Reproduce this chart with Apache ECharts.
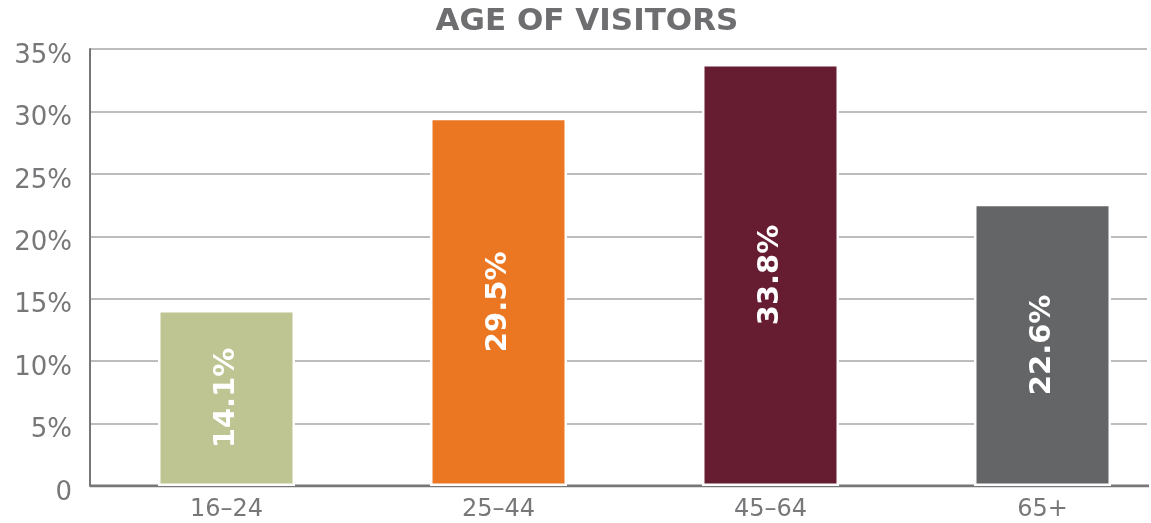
<!DOCTYPE html>
<html><head><meta charset="utf-8">
<script src="https://cdn.jsdelivr.net/npm/echarts@6/dist/echarts.min.js"></script>
<style>html,body{margin:0;padding:0;background:#fff}#c{width:1151px;height:523px}</style>
</head><body><div id="c"></div>
<script>
const title = "AGE OF VISITORS";
const categories = ["16–24", "25–44", "45–64", "65+"];
const values = [14.1, 29.5, 33.8, 22.6];
const barColors = ["#bec593", "#ec7723", "#661c31", "#646566"];
const yTicks = [0, 5, 10, 15, 20, 25, 30, 35];

const chart = echarts.init(document.getElementById('c'), null, {renderer: 'canvas'});
const font = "'DejaVu Sans', sans-serif";
chart.setOption({
  animation: false,
  backgroundColor: '#fff',
  title: {
    text: title, left: 582, top: 1, textAlign: 'center',
    textStyle: {fontFamily: font, fontWeight: 'bold', fontSize: 31, color: '#6e6e70'}
  },
  grid: [
    {left: 90, right: 4, top: 49, bottom: 37, outerBoundsMode: 'none'},
    {left: 90.5, width: 1088, top: 49, bottom: 37, outerBoundsMode: 'none'}
  ],
  xAxis: [
    {gridIndex: 0, type: 'value', min: 0, max: 1, show: true,
     axisLine: {show: false}, axisTick: {show: false}, axisLabel: {show: false}, splitLine: {show: false}},
    {gridIndex: 1, type: 'category', data: categories,
     axisLine: {show: false}, axisTick: {show: false},
     axisLabel: {fontFamily: font, fontSize: 24, color: '#77777a', margin: 12}}
  ],
  yAxis: [
    {gridIndex: 0, type: 'value', min: 0, max: 35, interval: 5,
     axisLine: {show: true, lineStyle: {color: '#77777a', width: 2}},
     axisTick: {show: false},
     splitLine: {lineStyle: {color: '#bdbdbd', width: 2}},
     axisLabel: {fontFamily: font, fontSize: 26, color: '#77777a', margin: 18,
       verticalAlign: 'top', lineHeight: 14,
       formatter: v => yTicks.includes(v) ? (v === 0 ? '0' : v + '%') : ''}},
    {gridIndex: 1, type: 'value', min: 0, max: 35, interval: 5, show: false}
  ],
  series: [
    {type: 'bar', xAxisIndex: 1, yAxisIndex: 1, barWidth: 137, z: 3,
     data: values.map((v, i) => ({value: v, itemStyle: {color: barColors[i]}})),
     itemStyle: {borderColor: '#fff', borderWidth: 2.5},
     label: {show: true, position: 'inside', rotate: 90, formatter: p => p.value.toFixed(1) + '%',
       fontFamily: font, fontWeight: 'bold', fontSize: 29, color: '#fff'}},
    {type: 'line', xAxisIndex: 0, yAxisIndex: 0, symbol: 'none', z: 2,
     data: [[0, 0], [1.1, 0]], lineStyle: {color: '#77777a', width: 3}}
  ]
});
</script></body></html>
